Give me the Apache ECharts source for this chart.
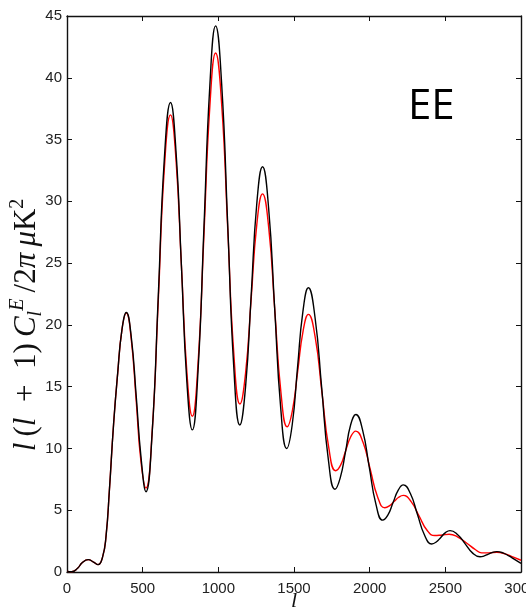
<!DOCTYPE html>
<html>
<head>
<meta charset="utf-8">
<script src="https://cdn.jsdelivr.net/npm/echarts@6/dist/echarts.min.js"></script>
<style>
  html, body { margin: 0; padding: 0; background: #fff; }
  #chart { width: 526px; height: 616px; }
</style>
</head>
<body>
<div id="chart"></div>
<script>
// EE polarization power spectrum: two models, multipole l vs l(l+1)C_l/2π [μK²]
const lBlack = [2, 30, 70, 100, 140, 175, 205, 235, 258, 280, 308, 335, 363, 392, 424, 457, 489, 522,
  562, 603, 643, 684, 720, 756, 792, 828, 866, 905, 944, 982, 1022, 1062, 1102, 1142, 1180, 1217, 1254,
  1292, 1332, 1372, 1412, 1452, 1488, 1523, 1559, 1595, 1639, 1683, 1727, 1771, 1805, 1840, 1874, 1909,
  1953, 1997, 2042, 2086, 2120, 2154, 2188, 2222, 2269, 2316, 2363, 2410, 2440, 2470, 2501, 2531, 2580,
  2630, 2679, 2729, 2757, 2784, 2812, 2840, 2880, 2920, 2960, 3000];
const clBlack = [0.05, 0.02, 0.3, 0.75, 1.0, 0.8, 0.6, 1.2, 2.9, 6.6, 12.0, 16.1, 19.6, 21.0, 19.1, 14.3, 9.3, 6.5,
  11.1, 22.3, 33.4, 38.0, 34.1, 24.8, 15.4, 11.5, 16.3, 27.9, 39.4, 44.2, 39.5, 28.1, 16.6, 11.9, 15.0, 22.4, 29.8,
  32.8, 29.5, 21.4, 13.3, 10.0, 11.9, 16.5, 21.1, 23.0, 20.6, 14.9, 9.1, 6.7, 7.6, 9.7, 11.9, 12.75,
  11.5, 8.5, 5.45, 4.2, 4.6, 5.6, 6.6, 7.05, 6.35, 4.65, 2.97, 2.27, 2.43, 2.8, 3.19, 3.35, 3.04,
  2.3, 1.55, 1.24, 1.3, 1.45, 1.59, 1.65, 1.55, 1.3, 1.0, 0.7];

const lRed = [2, 30, 70, 100, 140, 175, 205, 235, 258, 280, 308, 335, 363, 392, 424, 457, 489, 522,
  562, 603, 643, 684, 720, 756, 792, 828, 866, 905, 944, 982, 1022, 1062, 1102, 1143, 1180, 1217, 1254,
  1292, 1333, 1373, 1414, 1455, 1490, 1525, 1560, 1595, 1640, 1685, 1730, 1775, 1808, 1841, 1875, 1908,
  1956, 2004, 2052, 2100, 2130, 2161, 2192, 2222, 2274, 2326, 2378, 2430, 2480, 2525, 2580, 2640, 2700,
  2740, 2790, 2840, 2900, 2950, 3000];
const clRed = [0.05, 0.02, 0.3, 0.75, 1.0, 0.8, 0.6, 1.2, 2.9, 6.6, 12.0, 16.1, 19.6, 20.95, 18.9, 13.9, 8.9, 6.8,
  11.2, 21.9, 32.6, 37.0, 33.4, 24.8, 16.2, 12.6, 16.9, 27.3, 37.7, 42.0, 37.85, 27.8, 17.75, 13.6, 16.1, 22.1, 28.1,
  30.6, 27.85, 21.2, 14.5, 11.75, 13.1, 16.3, 19.5, 20.85, 19.0, 14.5, 10.05, 8.2, 8.65, 9.8, 10.95, 11.4,
  10.5, 8.3, 6.1, 5.2, 5.35, 5.7, 6.05, 6.2, 5.7, 4.55, 3.4, 2.95, 3.0, 3.05, 2.85, 2.35, 1.8,
  1.55, 1.55, 1.6, 1.45, 1.2, 0.95];

const xTicks = [0, 500, 1000, 1500, 2000, 2500, 3000];
const yTicks = [0, 5, 10, 15, 20, 25, 30, 35, 40, 45];
const panelLabel = 'EE';

const pairs = (xs, ys) => xs.map((x, i) => [x, ys[i]]);

const tickFont = { fontFamily: 'Liberation Sans, Arial, sans-serif', fontSize: 15, color: '#222' };
const axisLineStyle = { color: '#111', width: 1.4 };

function xAxisDef(pos, showLabels) {
  return {
    type: 'value', position: pos, min: xTicks[0], max: xTicks[xTicks.length - 1],
    interval: xTicks[1] - xTicks[0],
    axisLine: { show: true, onZero: false, lineStyle: axisLineStyle },
    axisTick: { show: true, inside: true, length: 5, lineStyle: { color: '#111', width: 1 } },
    axisLabel: Object.assign({ show: showLabels, margin: 9, formatter: v => String(v) }, tickFont),
    splitLine: { show: false }
  };
}
function yAxisDef(pos, showLabels) {
  return {
    type: 'value', position: pos, min: yTicks[0], max: yTicks[yTicks.length - 1],
    interval: yTicks[1] - yTicks[0],
    axisLine: { show: true, onZero: false, lineStyle: axisLineStyle },
    axisTick: { show: true, inside: true, length: 5, lineStyle: { color: '#111', width: 1 } },
    axisLabel: Object.assign({ show: showLabels, margin: 5, formatter: v => String(v) }, tickFont),
    splitLine: { show: false }
  };
}

const xMain = xAxisDef('bottom', true);
xMain.name = '{i|l}';
xMain.nameLocation = 'middle';
xMain.nameGap = 18;
xMain.nameMoveOverlap = false;
xMain.nameTextStyle = { rich: { i: { fontFamily: 'Liberation Serif, serif', fontStyle: 'italic', fontSize: 22, color: '#111' } } };

const yMain = yAxisDef('left', true);
// wide spaces give the label a math-style spacing
yMain.name = '{i|l\u2009}{r|(}{i|l}{r|  +  1)\u2009}{i|C}{sb|l}{sp|E}{r|\u2009/2}{i|π\u2009μ}{r|K}{sq|2}';
yMain.nameLocation = 'middle';
yMain.nameRotate = 90;
yMain.nameGap = 21;
yMain.nameMoveOverlap = false;
const serifBase = { fontFamily: 'Liberation Serif, serif', color: '#111', fontSize: 31, lineHeight: 38 };
yMain.nameTextStyle = {
  padding: [0, 62, 0, 0],
  rich: {
    i: Object.assign({}, serifBase, { fontStyle: 'italic' }),
    r: Object.assign({}, serifBase),
    sp: Object.assign({}, serifBase, { fontStyle: 'italic', fontSize: 20, lineHeight: 19, verticalAlign: 'top' }),
    sq: Object.assign({}, serifBase, { fontSize: 20, lineHeight: 19, verticalAlign: 'top' }),
    sb: Object.assign({}, serifBase, { fontStyle: 'italic', fontSize: 20, lineHeight: 19, verticalAlign: 'bottom' })
  }
};

const chart = echarts.init(document.getElementById('chart'), null, { renderer: 'canvas' });
chart.setOption({
  animation: false,
  backgroundColor: '#fff',
  grid: { left: 67, right: 5, top: 16, bottom: 44, containLabel: false, outerBoundsMode: 'none' },
  xAxis: [xMain, xAxisDef('top', false)],
  yAxis: [yMain, yAxisDef('right', false)],
  graphic: [{
    type: 'text', left: 408, top: 86,
    style: { text: panelLabel, fontFamily: 'Open Sans, sans-serif', fontSize: 42, fill: '#000' }
  }],
  series: [
    {
      type: 'line', name: 'red', xAxisIndex: 0, yAxisIndex: 0,
      data: pairs(lRed, clRed), smooth: true, symbol: 'none',
      lineStyle: { color: '#ff0000', width: 1.4 }
    },
    {
      type: 'line', name: 'black', xAxisIndex: 0, yAxisIndex: 0,
      data: pairs(lBlack, clBlack), smooth: true, symbol: 'none',
      lineStyle: { color: '#000000', width: 1.4 }
    }
  ]
});
</script>
</body>
</html>
